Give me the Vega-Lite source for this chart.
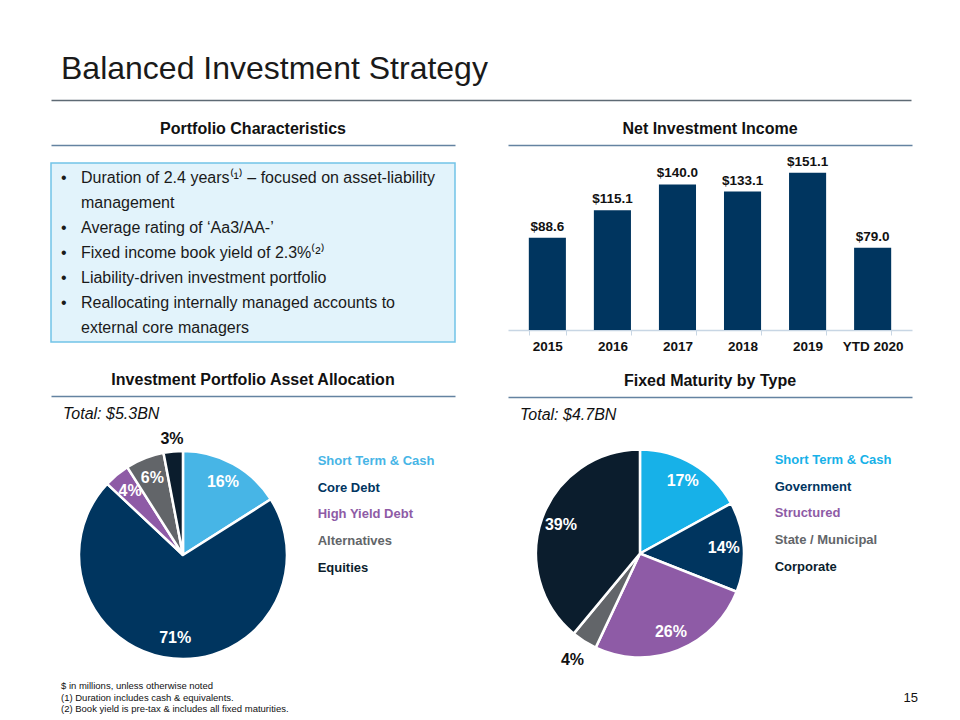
{
  "$schema": "https://vega.github.io/schema/vega-lite/v6.json",
  "padding": {"left": 50, "top": 38, "right": 10, "bottom": 5},
  "background": "white",
  "config": {
    "font": "Liberation Sans",
    "view": {"stroke": null},
    "axis": {"grid": false}
  },
  "spacing": 13,
  "vconcat": [
    {
      "width": 860,
      "height": 62,
      "data": {"values": [{"title": "Balanced Investment Strategy"}]},
      "mark": {"type": "text", "align": "left", "baseline": "middle", "dx": 10, "fontSize": 32, "color": "#1a1a1a"},
      "encoding": {
        "x": {"field": "title", "type": "nominal", "bandPosition": 0,
              "scale": {"type": "band", "paddingInner": 0, "paddingOuter": 0},
              "axis": {"orient": "bottom", "domain": true, "domainColor": "#5e6a74", "domainWidth": 1.5, "labels": false, "ticks": false, "title": null}},
        "text": {"field": "title"}
      }
    },
    {
      "spacing": 0,
      "vconcat": [
        {
          "spacing": 52,
          "resolve": {"scale": {"color": "independent", "theta": "independent"}},
          "hconcat": [
            {
              "spacing": 17,
              "vconcat": [
                {
                  "width": 404, "height": 32,
                  "data": {"values": [{"heading": "Portfolio Characteristics"}]},
                  "mark": {"type": "text", "fontSize": 16, "fontWeight": "bold", "color": "#111111", "baseline": "middle"},
                  "encoding": {
                    "x": {"field": "heading", "type": "nominal", "scale": {"type": "band", "paddingInner": 0, "paddingOuter": 0},
                          "axis": {"orient": "bottom", "domainColor": "#6483a1", "domainWidth": 1.5, "labels": false, "ticks": false, "title": null}},
                    "text": {"field": "heading"}
                  }
                },
                {
                  "spacing": 21,
                  "vconcat": [
                    {
                      "width": 404, "height": 179,
                      "view": {"fill": "#e2f3fb", "stroke": "#72c3e7", "strokeWidth": 1.5},
                      "data": {"values": [
                        {"line": 1, "part": "bullet", "text": "•"},
                        {"line": 1, "part": "text", "text": "Duration of 2.4 years⁽¹⁾ – focused on asset-liability"},
                        {"line": 2, "part": "text", "text": "management"},
                        {"line": 3, "part": "bullet", "text": "•"},
                        {"line": 3, "part": "text", "text": "Average rating of ‘Aa3/AA-’"},
                        {"line": 4, "part": "bullet", "text": "•"},
                        {"line": 4, "part": "text", "text": "Fixed income book yield of 2.3%⁽²⁾"},
                        {"line": 5, "part": "bullet", "text": "•"},
                        {"line": 5, "part": "text", "text": "Liability-driven investment portfolio"},
                        {"line": 6, "part": "bullet", "text": "•"},
                        {"line": 6, "part": "text", "text": "Reallocating internally managed accounts to"},
                        {"line": 7, "part": "text", "text": "external core managers"}
                      ]},
                      "mark": {"type": "text", "align": "left", "baseline": "middle", "fontSize": 16, "color": "#1a1a1a"},
                      "encoding": {
                        "x": {"field": "part", "type": "nominal", "scale": {"type": "point", "domain": ["bullet", "text"], "range": [10, 30], "padding": 0}, "axis": null},
                        "y": {"field": "line", "type": "ordinal", "scale": {"type": "point", "padding": 0.58}, "axis": null},
                        "text": {"field": "text"}
                      }
                    },
                    {
                      "spacing": 10,
                      "vconcat": [
                        {
                          "width": 404, "height": 32,
                          "data": {"values": [{"heading": "Investment Portfolio Asset Allocation"}]},
                          "mark": {"type": "text", "fontSize": 16, "fontWeight": "bold", "color": "#111111", "baseline": "middle"},
                          "encoding": {
                            "x": {"field": "heading", "type": "nominal", "scale": {"type": "band", "paddingInner": 0, "paddingOuter": 0},
                                  "axis": {"orient": "bottom", "domainColor": "#6483a1", "domainWidth": 1.5, "labels": false, "ticks": false, "title": null}},
                            "text": {"field": "heading"}
                          }
                        },
                        {
                          "width": 404, "height": 250,
                          "title": {"text": "Total: $5.3BN", "anchor": "start", "dx": 12, "offset": 8, "fontSize": 16, "fontStyle": "italic", "fontWeight": "normal", "color": "#111111"},
                          "data": {"values": [
                            {"idx": 1, "asset": "Short Term & Cash", "pct": 16, "label": "16%"},
                            {"idx": 2, "asset": "Core Debt", "pct": 71, "label": "71%"},
                            {"idx": 3, "asset": "High Yield Debt", "pct": 4, "label": "4%"},
                            {"idx": 4, "asset": "Alternatives", "pct": 6, "label": "6%"},
                            {"idx": 5, "asset": "Equities", "pct": 3, "label": "3%"}
                          ]},
                          "encoding": {
                            "x": {"datum": "pie", "type": "nominal", "scale": {"type": "point", "domain": ["pie", "legend"], "padding": 1, "align": 0.49}, "axis": null},
                            "color": {"field": "asset", "type": "nominal",
                                      "scale": {"domain": ["Short Term & Cash", "Core Debt", "High Yield Debt", "Alternatives", "Equities"],
                                                "range": ["#47b5e6", "#00355f", "#8e5ba6", "#626569", "#0b1d2d"]},
                                      "legend": null}
                          },
                          "layer": [
                            {
                              "mark": {"type": "arc", "outerRadius": 104, "stroke": "white", "strokeWidth": 2.5},
                              "encoding": {
                                "theta": {"field": "pct", "type": "quantitative", "stack": true},
                                "order": {"field": "idx", "type": "quantitative"}
                              }
                            },
                            {
                              "mark": {"type": "text", "radius": 83, "fontSize": 16, "fontWeight": "bold", "baseline": "middle"},
                              "encoding": {
                                "theta": {"field": "pct", "type": "quantitative", "stack": true},
                                "order": {"field": "idx", "type": "quantitative"},
                                "color": {"value": "#ffffff"},
                                "text": {"field": "label", "type": "nominal", "condition": {"test": "datum.pct < 4", "value": ""}}
                              }
                            },
                            {
                              "mark": {"type": "text", "radius": 117, "fontSize": 16, "fontWeight": "bold", "baseline": "middle"},
                              "encoding": {
                                "theta": {"field": "pct", "type": "quantitative", "stack": true},
                                "order": {"field": "idx", "type": "quantitative"},
                                "color": {"value": "#111111"},
                                "text": {"field": "label", "type": "nominal", "condition": {"test": "datum.pct >= 4", "value": ""}}
                              }
                            },
                            {
                              "mark": {"type": "text", "align": "left", "baseline": "middle", "fontSize": 13, "fontWeight": "bold"},
                              "encoding": {
                                "x": {"datum": "legend", "type": "nominal"},
                                "y": {"field": "asset", "type": "nominal", "sort": null, "scale": {"type": "point", "range": [31, 137.5], "padding": 0}, "axis": null},
                                "text": {"field": "asset"}
                              }
                            }
                          ]
                        }
                      ]
                    }
                  ]
                }
              ]
            },
            {
              "spacing": 3,
              "vconcat": [
                {
                  "width": 404, "height": 32,
                  "data": {"values": [{"heading": "Net Investment Income"}]},
                  "mark": {"type": "text", "fontSize": 16, "fontWeight": "bold", "color": "#111111", "baseline": "middle"},
                  "encoding": {
                    "x": {"field": "heading", "type": "nominal", "scale": {"type": "band", "paddingInner": 0, "paddingOuter": 0},
                          "axis": {"orient": "bottom", "domainColor": "#6483a1", "domainWidth": 1.5, "labels": false, "ticks": false, "title": null}},
                    "text": {"field": "heading"}
                  }
                },
                {
                  "spacing": 12,
                  "vconcat": [
                    {
                      "width": 404, "height": 182,
                      "data": {"values": [
                        {"year": "2015", "nii": 88.6},
                        {"year": "2016", "nii": 115.1},
                        {"year": "2017", "nii": 140.0},
                        {"year": "2018", "nii": 133.1},
                        {"year": "2019", "nii": 151.1},
                        {"year": "YTD 2020", "nii": 79.0}
                      ]},
                      "encoding": {
                        "x": {"field": "year", "type": "nominal", "sort": null,
                              "scale": {"paddingInner": 0.43, "paddingOuter": 0.32},
                              "axis": {"title": null, "labelAngle": 0, "labelFontSize": 13.5, "labelFontWeight": "bold", "labelColor": "#111111",
                                       "domainColor": "#c8d6e4", "domainWidth": 1.5, "tickColor": "#c8d6e4", "tickBand": "extent", "tickSize": 5, "labelPadding": 4}},
                        "y": {"field": "nii", "type": "quantitative", "scale": {"domain": [0, 175]}, "axis": null}
                      },
                      "layer": [
                        {"mark": {"type": "bar", "color": "#00355f"}},
                        {
                          "mark": {"type": "text", "baseline": "bottom", "dy": -4, "fontSize": 13.5, "fontWeight": "bold", "color": "#111111"},
                          "encoding": {"text": {"field": "nii", "type": "quantitative", "format": "$.1f"}}
                        }
                      ]
                    },
                    {
                      "spacing": 10,
                      "vconcat": [
                        {
                          "width": 404, "height": 32,
                          "data": {"values": [{"heading": "Fixed Maturity by Type"}]},
                          "mark": {"type": "text", "fontSize": 16, "fontWeight": "bold", "color": "#111111", "baseline": "middle"},
                          "encoding": {
                            "x": {"field": "heading", "type": "nominal", "scale": {"type": "band", "paddingInner": 0, "paddingOuter": 0},
                                  "axis": {"orient": "bottom", "domainColor": "#6483a1", "domainWidth": 1.5, "labels": false, "ticks": false, "title": null}},
                            "text": {"field": "heading"}
                          }
                        },
                        {
                          "width": 404, "height": 245,
                          "title": {"text": "Total: $4.7BN", "anchor": "start", "dx": 12, "offset": 8, "fontSize": 16, "fontStyle": "italic", "fontWeight": "normal", "color": "#111111"},
                          "data": {"values": [
                            {"idx": 1, "maturity": "Short Term & Cash", "pct": 17, "label": "17%"},
                            {"idx": 2, "maturity": "Government", "pct": 14, "label": "14%"},
                            {"idx": 3, "maturity": "Structured", "pct": 26, "label": "26%"},
                            {"idx": 4, "maturity": "State / Municipal", "pct": 4, "label": "4%"},
                            {"idx": 5, "maturity": "Corporate", "pct": 39, "label": "39%"}
                          ]},
                          "encoding": {
                            "x": {"datum": "pie", "type": "nominal", "scale": {"type": "point", "domain": ["pie", "legend"], "padding": 1, "align": 0.49}, "axis": null},
                            "color": {"field": "maturity", "type": "nominal",
                                      "scale": {"domain": ["Short Term & Cash", "Government", "Structured", "State / Municipal", "Corporate"],
                                                "range": ["#17b1e8", "#00355f", "#8e5ba6", "#626569", "#0b1d2d"]},
                                      "legend": null}
                          },
                          "layer": [
                            {
                              "mark": {"type": "arc", "outerRadius": 104, "stroke": "white", "strokeWidth": 2.5},
                              "encoding": {
                                "theta": {"field": "pct", "type": "quantitative", "stack": true},
                                "order": {"field": "idx", "type": "quantitative"}
                              }
                            },
                            {
                              "mark": {"type": "text", "radius": 84, "fontSize": 16, "fontWeight": "bold", "baseline": "middle"},
                              "encoding": {
                                "theta": {"field": "pct", "type": "quantitative", "stack": true},
                                "order": {"field": "idx", "type": "quantitative"},
                                "color": {"value": "#ffffff"},
                                "text": {"field": "label", "type": "nominal", "condition": {"test": "datum.pct <= 4", "value": ""}}
                              }
                            },
                            {
                              "mark": {"type": "text", "radius": 126, "fontSize": 16, "fontWeight": "bold", "baseline": "middle"},
                              "encoding": {
                                "theta": {"field": "pct", "type": "quantitative", "stack": true},
                                "order": {"field": "idx", "type": "quantitative"},
                                "color": {"value": "#111111"},
                                "text": {"field": "label", "type": "nominal", "condition": {"test": "datum.pct > 4", "value": ""}}
                              }
                            },
                            {
                              "mark": {"type": "text", "align": "left", "baseline": "middle", "fontSize": 13, "fontWeight": "bold"},
                              "encoding": {
                                "x": {"datum": "legend", "type": "nominal"},
                                "y": {"field": "maturity", "type": "nominal", "sort": null, "scale": {"type": "point", "range": [29, 135.5], "padding": 0}, "axis": null},
                                "text": {"field": "maturity"}
                              }
                            }
                          ]
                        }
                      ]
                    }
                  ]
                }
              ]
            }
          ]
        },
        {
          "width": 860, "height": 30,
          "layer": [
            {
              "data": {"values": [
                {"line": 1, "note": "$ in millions, unless otherwise noted"},
                {"line": 2, "note": "(1) Duration includes cash & equivalents."},
                {"line": 3, "note": "(2) Book yield is pre-tax & includes all fixed maturities."}
              ]},
              "mark": {"type": "text", "align": "left", "baseline": "middle", "dx": 10, "fontSize": 9.5, "color": "#111111"},
              "encoding": {
                "x": {"datum": "notes", "type": "nominal", "scale": {"type": "point", "domain": ["notes", "page"], "padding": 0}, "axis": null},
                "y": {"field": "line", "type": "ordinal", "scale": {"type": "point", "padding": 0.3, "align": 0.43}, "axis": null},
                "text": {"field": "note"}
              }
            },
            {
              "data": {"values": [{"page": "15"}]},
              "mark": {"type": "text", "align": "right", "baseline": "middle", "dx": 7, "fontSize": 13, "color": "#111111"},
              "encoding": {
                "x": {"datum": "page", "type": "nominal"},
                "y": {"datum": 2, "type": "ordinal"},
                "text": {"field": "page"}
              }
            }
          ]
        }
      ]
    }
  ]
}
